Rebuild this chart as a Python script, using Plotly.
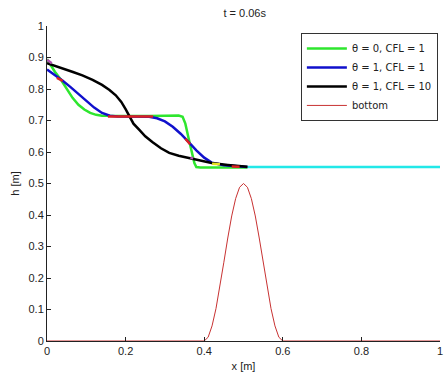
import plotly.graph_objects as go

# ---- data ----
x_green = [0, 0.01, 0.02, 0.035, 0.05, 0.065, 0.08, 0.095, 0.11, 0.125, 0.14, 0.2, 0.26, 0.3, 0.335,
           0.345, 0.352, 0.36, 0.368, 0.375, 0.38, 0.39, 0.45, 0.51]
h_green = [0.895, 0.875, 0.855, 0.83, 0.8, 0.772, 0.75, 0.735, 0.724, 0.718, 0.715, 0.714, 0.714, 0.715, 0.716,
           0.712, 0.69, 0.645, 0.6, 0.565, 0.552, 0.551, 0.551, 0.551]

x_blue = [0, 0.02, 0.04, 0.06, 0.08, 0.1, 0.12, 0.14, 0.16, 0.18, 0.22, 0.26, 0.28, 0.3, 0.32, 0.34,
          0.36, 0.38, 0.4, 0.42, 0.45, 0.48, 0.51]
h_blue = [0.862, 0.845, 0.826, 0.806, 0.785, 0.763, 0.741, 0.724, 0.715, 0.713, 0.713, 0.712, 0.707, 0.697,
          0.68, 0.658, 0.632, 0.605, 0.582, 0.566, 0.558, 0.554, 0.552]

x_black = [0, 0.015, 0.04, 0.066, 0.09, 0.116, 0.14, 0.159, 0.175, 0.189, 0.2, 0.21, 0.22, 0.235, 0.25,
           0.268, 0.29, 0.311, 0.335, 0.361, 0.39, 0.419, 0.46, 0.51]
h_black = [0.882, 0.876, 0.866, 0.854, 0.843, 0.829, 0.813, 0.797, 0.78, 0.759, 0.736, 0.711, 0.69, 0.67,
           0.65, 0.632, 0.612, 0.597, 0.588, 0.581, 0.572, 0.565, 0.559, 0.553]

x_bottom = [0, 0.4, 0.41, 0.42, 0.43, 0.44, 0.45, 0.46, 0.47, 0.48, 0.49, 0.5,
            0.51, 0.52, 0.53, 0.54, 0.55, 0.56, 0.57, 0.58, 0.59, 0.6, 1]
h_bottom = [0, 0, 0.012, 0.048, 0.103, 0.173, 0.25, 0.327, 0.397, 0.452, 0.488, 0.5,
            0.488, 0.452, 0.397, 0.327, 0.25, 0.173, 0.103, 0.048, 0.012, 0, 0]

x_cyan = [0.51, 1.0]
h_cyan = [0.552, 0.552]

# small coloured overlay pieces visible on the curves
x_red_bits = [0.155, 0.27, None, 0.025, 0.04, None, 0.352, 0.364, None, 0.47, 0.49]
h_red_bits = [0.713, 0.713, None, 0.835, 0.826, None, 0.642, 0.625, None, 0.554, 0.553]
x_yellow_bits = [0.42, 0.44]
h_yellow_bits = [0.563, 0.561]
x_magenta_bits = [0.0, 0.012, None, 0.365, 0.372]
h_magenta_bits = [0.893, 0.882, None, 0.582, 0.58]

fig = go.Figure()
fig.add_trace(go.Scatter(x=x_cyan, y=h_cyan, mode="lines", line=dict(color="#22e8e8", width=2.5),
                         showlegend=False, hoverinfo="skip"))
fig.add_trace(go.Scatter(x=x_green, y=h_green, mode="lines", name="θ = 0, CFL = 1",
                         line=dict(color="#2ee62e", width=2.5)))
fig.add_trace(go.Scatter(x=x_blue, y=h_blue, mode="lines", name="θ = 1, CFL = 1",
                         line=dict(color="#1010cc", width=2.5)))
fig.add_trace(go.Scatter(x=x_black, y=h_black, mode="lines", name="θ = 1, CFL = 10",
                         line=dict(color="#000000", width=2.5)))
fig.add_trace(go.Scatter(x=x_red_bits, y=h_red_bits, mode="lines",
                         line=dict(color="#dd2222", width=2.5), showlegend=False, hoverinfo="skip"))
fig.add_trace(go.Scatter(x=x_yellow_bits, y=h_yellow_bits, mode="lines",
                         line=dict(color="#e8e020", width=2.5), showlegend=False, hoverinfo="skip"))
fig.add_trace(go.Scatter(x=x_magenta_bits, y=h_magenta_bits, mode="lines",
                         line=dict(color="#b050b0", width=2.5), showlegend=False, hoverinfo="skip"))
fig.add_trace(go.Scatter(x=x_bottom, y=h_bottom, mode="lines", name="bottom",
                         line=dict(color="#c83232", width=1)))

font = "Liberation Sans, Arial, sans-serif"
fig.update_layout(
    width=445, height=373,
    margin=dict(l=47, r=2, t=26, b=32),
    paper_bgcolor="white", plot_bgcolor="white",
    font=dict(family=font, size=11, color="#222222"),
    title=dict(text="t = 0.06s", x=0.55, xanchor="center", y=0.965, yanchor="middle",
               yref="container", font=dict(size=11, color="#222222")),
    showlegend=True,
    legend=dict(x=0.646, y=0.978, xanchor="left", yanchor="top",
                bordercolor="#333333", borderwidth=1, bgcolor="white", itemwidth=40,
                font=dict(family="DejaVu Sans, sans-serif", size=10, color="#222222"), tracegroupgap=0),
    xaxis=dict(range=[0, 1], tickvals=[0, 0.2, 0.4, 0.6, 0.8, 1], ticktext=["0", "0.2", "0.4", "0.6", "0.8", "1"],
               ticks="inside", ticklen=4, tickcolor="#222", showline=True, linecolor="#222", linewidth=1,
               showgrid=False, zeroline=False, mirror=False, ticklabeloverflow="allow",
               title=dict(text="x [m]", standoff=6, font=dict(size=11))),
    yaxis=dict(range=[0, 1], tickvals=[0, 0.1, 0.2, 0.3, 0.4, 0.5, 0.6, 0.7, 0.8, 0.9, 1],
               ticktext=["0", "0.1", "0.2", "0.3", "0.4", "0.5", "0.6", "0.7", "0.8", "0.9", "1"],
               ticks="inside", ticklen=4, tickcolor="#222", showline=True, linecolor="#222", linewidth=1,
               showgrid=False, zeroline=False, mirror=False, ticklabeloverflow="allow",
               title=dict(text="h [m]", standoff=6, font=dict(size=11))),
)
fig.write_html("out.html")
